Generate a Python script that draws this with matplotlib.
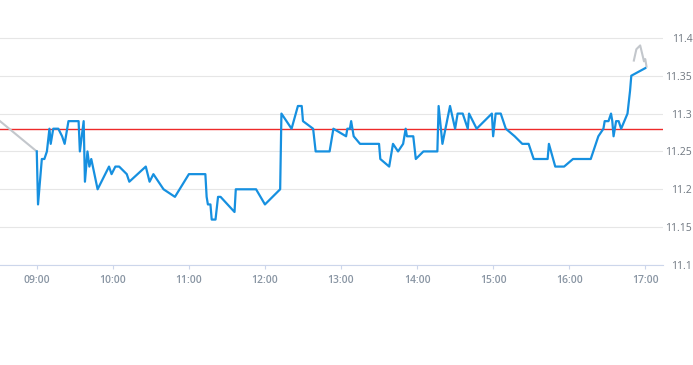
import matplotlib.pyplot as plt

# intraday prices, minutes after 09:00
minutes = [0, 1, 4, 6, 8, 10, 11, 13, 17, 20, 22, 25, 33, 34, 37, 38, 40, 41.5, 43, 48,
           57, 59, 62, 65, 71, 73, 86, 89, 92, 100, 109, 120, 133, 134, 135, 137, 138, 141,
           143, 145, 156, 157, 173, 180, 192, 193, 201, 206, 209, 210, 214, 218, 220, 231,
           234, 244, 245, 247, 248, 250, 255, 270, 271, 278, 281, 285, 289, 291, 292, 297,
           299, 305, 316, 317, 320, 326, 330, 332, 336, 340, 341, 347, 359, 360, 362, 366,
           370, 377, 383, 388, 392, 403, 404, 409, 416, 423, 437, 441, 443, 447, 448, 451,
           453, 454, 455, 457, 459, 461, 466, 468, 469, 480]
prices = [11.25, 11.18, 11.24, 11.24, 11.25, 11.28, 11.26, 11.28, 11.28, 11.27, 11.26, 11.29,
          11.29, 11.25, 11.29, 11.21, 11.25, 11.23, 11.24, 11.20,
          11.23, 11.22, 11.23, 11.23, 11.22, 11.21, 11.23, 11.21, 11.22, 11.20, 11.19, 11.22,
          11.22, 11.19, 11.18, 11.18, 11.16, 11.16,
          11.19, 11.19, 11.17, 11.20, 11.20, 11.18, 11.20, 11.30, 11.28, 11.31, 11.31, 11.29,
          11.285, 11.28, 11.25, 11.25,
          11.28, 11.27, 11.28, 11.28, 11.29, 11.27, 11.26, 11.26, 11.24, 11.23, 11.26, 11.25,
          11.26, 11.28, 11.27, 11.27,
          11.24, 11.25, 11.25, 11.31, 11.26, 11.31, 11.28, 11.30, 11.30, 11.28, 11.30, 11.28,
          11.30, 11.27, 11.30, 11.30,
          11.28, 11.27, 11.26, 11.26, 11.24, 11.24, 11.26, 11.23, 11.23, 11.24, 11.24, 11.26,
          11.27, 11.28, 11.29, 11.29,
          11.30, 11.29, 11.27, 11.29, 11.29, 11.28, 11.30, 11.33, 11.35, 11.36]

# grey pieces outside the session
pre_minutes = [-29, 0]
pre_prices = [11.29, 11.25]
post_minutes = [471, 473, 476, 478, 479, 480, 481]
post_prices = [11.37, 11.385, 11.39, 11.376, 11.369, 11.372, 11.362]

ref_price = 11.28

hour_ticks = [0, 60, 120, 180, 240, 300, 360, 420, 480]
hour_labels = ['09:00', '10:00', '11:00', '12:00', '13:00', '14:00', '15:00', '16:00', '17:00']
y_ticks = [11.1, 11.15, 11.2, 11.25, 11.3, 11.35, 11.4]
y_labels = ['11.1', '11.15', '11.2', '11.25', '11.3', '11.35', '11.4']

plt.rcParams['font.family'] = ['Open Sans', 'DejaVu Sans']

fig = plt.figure(figsize=(6.93, 3.65), dpi=100)
ax = fig.add_axes([0, 100 / 365, 663 / 693, 265 / 365])

ax.plot(pre_minutes, pre_prices, color='#c3c7cc', lw=1.5, zorder=3)
ax.plot(post_minutes, post_prices, color='#c3c7cc', lw=1.5, zorder=3)
ax.plot(minutes, prices, color='#1690e0', lw=1.6, zorder=4)
ax.axhline(ref_price, color='#ee2a2a', lw=1.0, zorder=2)

ax.set_xlim(-29, 494)
ax.set_ylim(11.1, 11.45)

ax.set_yticks(y_ticks)
ax.set_yticklabels(y_labels)
ax.grid(axis='y', color='#e6e6e6', lw=0.8)
ax.set_axisbelow(True)
ax.yaxis.tick_right()
ax.tick_params(axis='y', length=0, pad=21, labelsize=7.5, labelcolor='#6f7780')
for lab in ax.get_yticklabels():
    lab.set_horizontalalignment('right')

ax.set_xticks(hour_ticks)
ax.set_xticklabels(hour_labels)
ax.tick_params(axis='x', length=3, width=0.8, color='#ccd6eb', pad=4,
               labelsize=7.5, labelcolor='#8995a3')
for lab in ax.get_xticklabels():
    lab.set_fontweight('semibold')

for side in ['top', 'left', 'right']:
    ax.spines[side].set_visible(False)
ax.spines['bottom'].set_color('#ccd6eb')
ax.spines['bottom'].set_linewidth(0.8)

fig.savefig('out.png', dpi=100)
